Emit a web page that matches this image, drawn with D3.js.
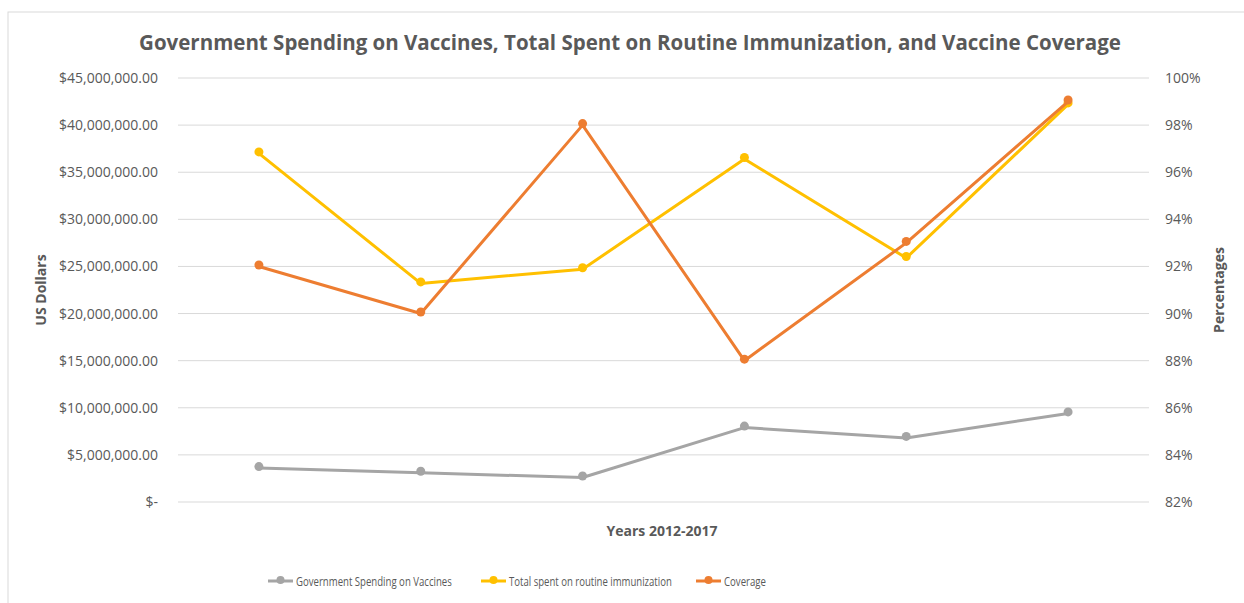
<!DOCTYPE html>
<html>
<head>
<meta charset="utf-8">
<script src="https://cdn.jsdelivr.net/npm/d3@7/dist/d3.min.js"></script>
<style>
  html, body { margin: 0; padding: 0; background: #fff; }
  svg { display: block; }
  text { font-family: "Open Sans", "Noto Sans", sans-serif; fill: #595959; }
</style>
</head>
<body>
<svg id="chart" width="1244" height="603"></svg>
<script>
// Years 2012-2017
const years = ["2012", "2013", "2014", "2015", "2016", "2017"];
// Government spending on vaccines (US$)
const govSpending = [3600000, 3100000, 2600000, 7900000, 6800000, 9400000];
// Total spent on routine immunization (US$)
const routineTotal = [37000000, 23200000, 24700000, 36400000, 25900000, 42200000];
// Vaccine coverage (fraction)
const coverage = [0.92, 0.90, 0.98, 0.88, 0.93, 0.99];

const leftTicks = [0, 5e6, 10e6, 15e6, 20e6, 25e6, 30e6, 35e6, 40e6, 45e6];
const rightTicks = [0.82, 0.84, 0.86, 0.88, 0.90, 0.92, 0.94, 0.96, 0.98, 1.00];

const colors = { gov: "#a5a5a5", total: "#ffc000", cov: "#ed7d31" };

const svg = d3.select("#chart");
const plot = { left: 178, right: 1149, top: 78, bottom: 502 };

// chart frame
svg.append("rect")
  .attr("x", 8).attr("y", 12).attr("width", 1300).attr("height", 700)
  .attr("fill", "#fff").attr("stroke", "#d9d9d9").attr("stroke-width", 1);

const x = d3.scalePoint().domain(years).range([plot.left, plot.right]).padding(0.5);
const yL = d3.scaleLinear().domain([0, 45e6]).range([plot.bottom, plot.top]);
const yR = d3.scaleLinear().domain([0.82, 1.00]).range([plot.bottom, plot.top]);

// gridlines
svg.append("g").selectAll("line").data(leftTicks).join("line")
  .attr("x1", plot.left).attr("x2", plot.right)
  .attr("y1", d => yL(d)).attr("y2", d => yL(d))
  .attr("stroke", "#d9d9d9").attr("stroke-width", 1);

// left axis
const fmtUSD = d => d === 0 ? "$-" : "$" + d3.format(",.2f")(d);
const gL = svg.append("g").attr("transform", `translate(${plot.left},0)`)
  .call(d3.axisLeft(yL).tickValues(leftTicks).tickFormat(fmtUSD).tickSize(0).tickPadding(20));
gL.select(".domain").remove();
gL.selectAll("text").style("font-size", "14px").attr("fill", "#595959").attr("font-family", null);

// right axis
const gR = svg.append("g").attr("transform", `translate(${plot.right},0)`)
  .call(d3.axisRight(yR).tickValues(rightTicks).tickFormat(d3.format(".0%")).tickSize(0).tickPadding(16));
gR.select(".domain").remove();
gR.selectAll("text").style("font-size", "14px").attr("fill", "#595959").attr("font-family", null);

// series
const series = [
  { key: "gov", values: govSpending, y: yL, name: "Government Spending on Vaccines", width: 156 },
  { key: "total", values: routineTotal, y: yL, name: "Total spent on routine immunization", width: 163 },
  { key: "cov", values: coverage, y: yR, name: "Coverage", width: 42 }
];

series.forEach(s => {
  const pts = years.map((yr, i) => [x(yr), s.y(s.values[i])]);
  svg.append("path")
    .attr("d", d3.line()(pts))
    .attr("fill", "none").attr("stroke", colors[s.key])
    .attr("stroke-width", 3).attr("stroke-linejoin", "round");
  svg.append("g").selectAll("circle").data(pts).join("circle")
    .attr("cx", d => d[0]).attr("cy", d => d[1] - 1.5).attr("r", 4.5)
    .attr("fill", colors[s.key]);
});

// title
svg.append("text").attr("x", 630).attr("y", 50).attr("text-anchor", "middle")
  .style("font-size", "20.5px").style("font-weight", "bold")
  .text("Government Spending on Vaccines, Total Spent on Routine Immunization, and Vaccine Coverage");

// axis titles
svg.append("text").attr("transform", "translate(46,290) rotate(-90)")
  .attr("text-anchor", "middle").style("font-size", "14px").style("font-weight", "bold")
  .text("US Dollars");
svg.append("text").attr("transform", "translate(1224,290) rotate(-90)")
  .attr("text-anchor", "middle").style("font-size", "14px").style("font-weight", "bold")
  .text("Percentages");
svg.append("text").attr("x", 662).attr("y", 536).attr("text-anchor", "middle")
  .style("font-size", "14px").style("font-weight", "bold")
  .text("Years 2012-2017");

// legend (labels condensed horizontally to a narrow face)
const legendX = [268, 481, 696];
const lg = svg.append("g").selectAll("g").data(series).join("g")
  .attr("transform", (d, i) => `translate(${legendX[i]},581)`);
lg.append("line").attr("x1", 0).attr("x2", 25).attr("y1", 0).attr("y2", 0)
  .attr("stroke", d => colors[d.key]).attr("stroke-width", 3);
lg.append("circle").attr("cx", 12.5).attr("cy", -1).attr("r", 4).attr("fill", d => colors[d.key]);
lg.append("text")
  .style("font-size", "13.5px")
  .text(d => d.name)
  .each(function(d) {
    const w = this.getComputedTextLength();
    const k = d.width / w;
    d3.select(this).attr("transform", `translate(28,5) scale(${k},1)`);
  });
</script>
</body>
</html>
